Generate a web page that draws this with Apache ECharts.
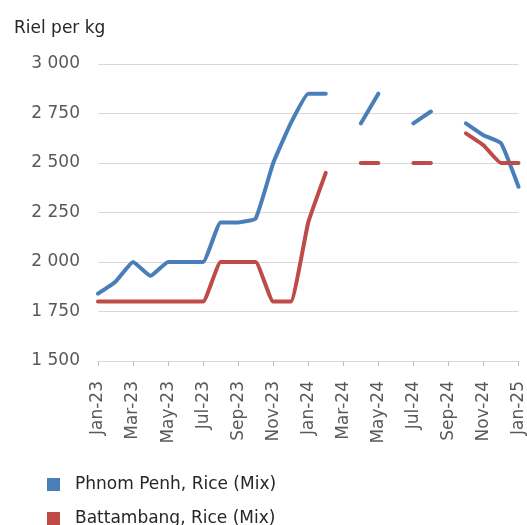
<!DOCTYPE html>
<html>
<head>
<meta charset="utf-8">
<script src="https://cdn.jsdelivr.net/npm/echarts@6/dist/echarts.min.js"></script>
<style>html,body{margin:0;padding:0;background:#fff}#c{width:527px;height:525px}</style>
</head>
<body>
<div id="c"></div>
<script>
const categories = ["Jan-23","Feb-23","Mar-23","Apr-23","May-23","Jun-23","Jul-23","Aug-23","Sep-23","Oct-23","Nov-23","Dec-23",
  "Jan-24","Feb-24","Mar-24","Apr-24","May-24","Jun-24","Jul-24","Aug-24","Sep-24","Oct-24","Nov-24","Dec-24","Jan-25"];
const phnomPenh = [1840,1900,2000,1930,2000,2000,2000,2200,2200,2220,2500,2700,
  2850,2850,null,2700,2850,null,2700,2760,null,2700,2640,2600,2380];
const battambang = [1800,1800,1800,1800,1800,1800,1800,2000,2000,2000,1800,1800,
  2200,2450,null,2500,2500,null,2500,2500,null,2650,2590,2500,2500];
const yTicks = [1500,1750,2000,2250,2500,2750,3000];
const seriesNames = ["Phnom Penh, Rice (Mix)","Battambang, Rice (Mix)"];

const FONT = "DejaVu Sans";
const legendBase = {orient:'vertical',left:42,itemWidth:13,itemHeight:13,icon:'rect',
  textStyle:{fontFamily:FONT,fontSize:17,color:'#262626',padding:[0,0,0,10]}};
const chart = echarts.init(document.getElementById('c'), null, {renderer:'canvas'});
chart.setOption({
  animation:false,
  color:['#4a7ebb','#be4b48'],
  title:{text:'Riel per kg',left:9,top:15,textStyle:{fontFamily:FONT,fontSize:17,fontWeight:'normal',color:'#262626'}},
  grid:{left:98,right:0,top:64,bottom:164,containLabel:false},
  legend:[
    Object.assign({}, legendBase, {top:471, data:[seriesNames[0]]}),
    Object.assign({}, legendBase, {top:505, data:[seriesNames[1]]})
  ],
  xAxis:{type:'category',data:categories,boundaryGap:false,
    axisLine:{lineStyle:{color:'#d9d9d9',width:1}},
    axisTick:{show:true,interval:1,length:5,lineStyle:{color:'#bfbfbf'}},
    axisLabel:{interval:1,rotate:90,margin:20,fontFamily:FONT,fontSize:17,color:'#595959'},
    splitLine:{show:false}},
  yAxis:{type:'value',min:yTicks[0],max:yTicks[yTicks.length-1],interval:250,
    axisLine:{show:false},axisTick:{show:false},
    axisLabel:{margin:18,fontFamily:FONT,fontSize:17,color:'#595959',
      formatter:v=>String(v).replace(/\B(?=(\d{3})+(?!\d))/g,' ')},
    splitLine:{lineStyle:{color:'#d9d9d9',width:1}}},
  series:[
    {name:seriesNames[0],type:'line',data:phnomPenh,smooth:0.12,showSymbol:false,connectNulls:false,
      lineStyle:{width:4,cap:'round',join:'round'}},
    {name:seriesNames[1],type:'line',data:battambang,smooth:0.12,showSymbol:false,connectNulls:false,
      lineStyle:{width:4,cap:'round',join:'round'}}
  ]
});
</script>
</body>
</html>
